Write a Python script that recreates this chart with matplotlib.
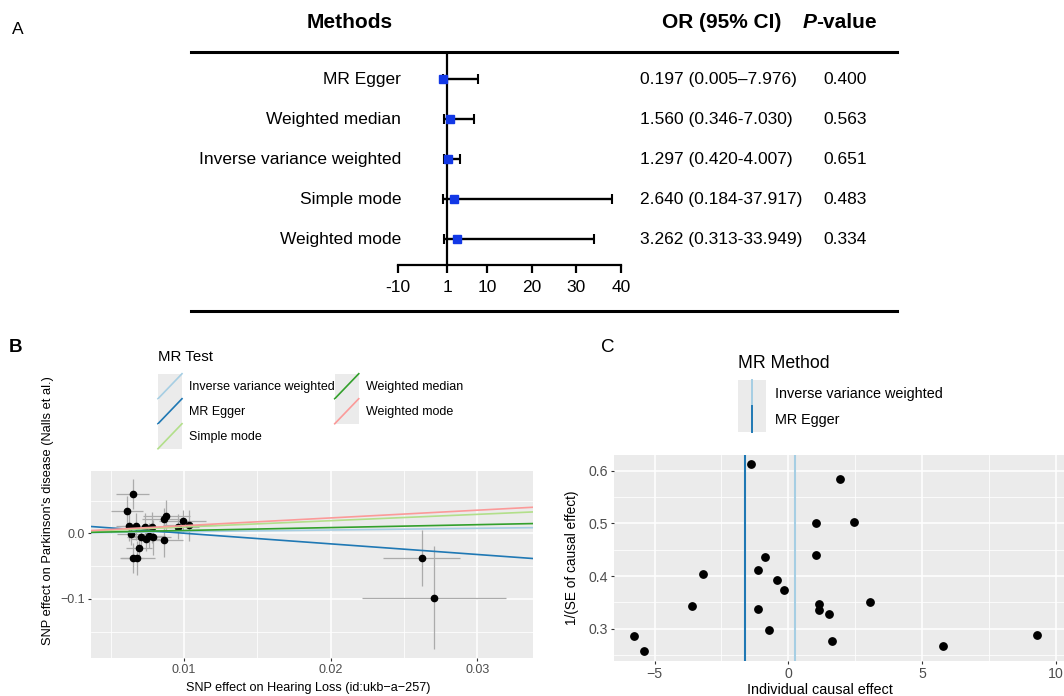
import matplotlib
matplotlib.use("Agg")
import matplotlib.pyplot as plt
import matplotlib.transforms as mtransforms
from matplotlib.patches import Rectangle
from matplotlib.lines import Line2D
from matplotlib.legend_handler import HandlerBase
import numpy as np

plt.rcParams['font.family'] = ['Liberation Sans', 'DejaVu Sans']

# ---------------- Panel A data ----------------
methods = ["MR Egger", "Weighted median", "Inverse variance weighted",
           "Simple mode", "Weighted mode"]
or_vals = [0.197, 1.560, 1.297, 2.640, 3.262]
or_low = [0.005, 0.346, 0.420, 0.184, 0.313]
or_high = [7.976, 7.030, 4.007, 37.917, 33.949]
or_text = ["0.197 (0.005\u20137.976)", "1.560 (0.346-7.030)", "1.297 (0.420-4.007)",
           "2.640 (0.184-37.917)", "3.262 (0.313-33.949)"]
p_text = ["0.400", "0.563", "0.651", "0.483", "0.334"]
a_ticks = [-10, 1, 10, 20, 30, 40]

# ---------------- Panel B data ----------------
snp_x = [0.0065, 0.0061, 0.00627, 0.00677, 0.00643, 0.0065, 0.00682, 0.00693,
         0.00736, 0.00739, 0.00759, 0.0078, 0.00791, 0.00864, 0.0088, 0.00866,
         0.00991, 0.00961, 0.01036, 0.0262, 0.02707, 0.0071]
snp_y = [0.060, 0.0347, 0.0112, 0.0112, -0.001, -0.0378, -0.0378, -0.022,
         0.0092, -0.0087, -0.0036, 0.0092, -0.0061, 0.0214, 0.0265, -0.0097,
         0.0189, 0.0102, 0.0122, -0.0372, -0.0985, -0.006]
snp_se_x = [0.0011, 0.0011, 0.0009, 0.0010, 0.0010, 0.0008, 0.0012, 0.0009,
            0.0012, 0.0010, 0.0011, 0.0014, 0.0012, 0.0015, 0.0016, 0.0013,
            0.0016, 0.0014, 0.0018, 0.0026, 0.0049, 0.0010]
snp_se_y = [0.0226, 0.0229, 0.0226, 0.0207, 0.0172, 0.0227, 0.0264, 0.0172,
            0.0213, 0.0180, 0.0193, 0.0233, 0.0266, 0.0172, 0.0251, 0.0257,
            0.0170, 0.0192, 0.0235, 0.0428, 0.0787, 0.0165]
line_methods = ["Inverse variance weighted", "MR Egger", "Simple mode",
                "Weighted median", "Weighted mode"]
line_or = [1.297, 0.197, 2.640, 1.560, 3.262]
line_intercepts = [0.0, 0.0165, 0.0, 0.0, 0.0]
line_colors = ["#a6cee3", "#1f78b4", "#b2df8a", "#33a02c", "#fb9a99"]

# ---------------- Panel C data ----------------
ce_x = [-1.40, 1.92, 1.05, 2.46, 1.05, -0.86, -1.12, -3.18, -0.42, -0.15, -3.60,
        -1.15, 3.07, 1.16, 1.16, 1.53, -0.71, -5.76, 1.65, 5.79, -5.39, 9.29]
ce_y = [0.612, 0.584, 0.500, 0.502, 0.440, 0.436, 0.411, 0.403, 0.393, 0.374, 0.344,
        0.337, 0.351, 0.346, 0.335, 0.327, 0.297, 0.286, 0.277, 0.268, 0.258, 0.288]
vline_methods = ["Inverse variance weighted", "MR Egger"]
vline_or = [1.297, 0.197]
vline_colors = ["#a6cee3", "#1f78b4"]

W, H = 1064, 696
fig = plt.figure(figsize=(W / 100, H / 100), dpi=100)


def fx(px):
    return px / W


def fy(py):
    return 1 - py / H


# ================= Panel A (forest plot) =================
top_px, axis_px = 52.3, 265
row0_px, row_step = 79.3, 40.0
axA = fig.add_axes([fx(398), fy(axis_px), fx(621) - fx(398), (axis_px - top_px) / H])
axA.set_xlim(-10, 40)
ylo = (axis_px - row0_px) / row_step
yhi = (top_px - row0_px) / row_step
axA.set_ylim(ylo, yhi)
rows = np.arange(len(methods))
ov = np.array(or_vals)
axA.errorbar(ov, rows, xerr=[ov - np.array(or_low), np.array(or_high) - ov],
             fmt='none', ecolor='black', elinewidth=1.7, capsize=3.5, capthick=1.5, zorder=2)
axA.plot(ov, rows, 's', color='#1238E6', ms=5.5, mec='#1238E6', zorder=4)
axA.axvline(1, color='black', lw=1.6, zorder=3)
for s in ['top', 'left', 'right']:
    axA.spines[s].set_visible(False)
axA.spines['bottom'].set_linewidth(1.6)
axA.set_yticks([])
axA.set_xticks(a_ticks)
axA.set_xticklabels([str(t) for t in a_ticks])
axA.tick_params(axis='x', length=6, width=1.6, labelsize=12.5, pad=5, direction='out')
axA.set_facecolor('none')

tA = mtransforms.blended_transform_factory(fig.transFigure, axA.transData)
line_y_bottom = (311 - row0_px) / row_step
axA.plot([fx(191), fx(897)], [yhi, yhi], color='black', lw=2.2, transform=tA, clip_on=False)
axA.plot([fx(191), fx(897)], [line_y_bottom, line_y_bottom], color='black', lw=2.2,
         transform=tA, clip_on=False)
for i in range(len(methods)):
    axA.text(fx(401), i, methods[i], ha='right', va='center', fontsize=12.5, transform=tA)
    axA.text(fx(640), i, or_text[i], ha='left', va='center', fontsize=12.5, transform=tA)
    axA.text(fx(823), i, p_text[i], ha='left', va='center', fontsize=12.5, transform=tA)
head_y = (22.7 - row0_px) / row_step
axA.text(fx(350), head_y, "Methods", ha='center', va='center', fontsize=15,
         fontweight='bold', transform=tA)
axA.text(fx(661.7), head_y, "OR (95% CI)", ha='left', va='center', fontsize=15,
         fontweight='bold', transform=tA)
tp = axA.text(fx(802.7), head_y, "P", ha='left', va='center', fontsize=15,
              fontweight='bold', fontstyle='italic', transform=tA)
axA.annotate("-value", xy=(1, 0), xycoords=tp, ha='left', va='bottom', fontsize=15,
             fontweight='bold')

# ================= Panel B (scatter) =================
axB = fig.add_axes([fx(91), fy(658), fx(533) - fx(91), (658 - 471) / H])
axB.set_facecolor('#EBEBEB')
axB.set_xlim(0.00367, 0.0338)
axB.set_ylim(-0.1905, 0.0954)
axB.set_xticks([0.01, 0.02, 0.03])
axB.set_xticklabels(["0.01", "0.02", "0.03"])
axB.set_yticks([-0.1, 0.0])
axB.set_yticklabels(["\u22120.1", "0.0"])
axB.set_xticks([0.005, 0.015, 0.025], minor=True)
axB.set_yticks([-0.15, -0.05, 0.05], minor=True)
axB.grid(which='major', color='white', lw=1.1)
axB.grid(which='minor', color='white', lw=0.55)
axB.set_axisbelow(True)
for s in axB.spines.values():
    s.set_visible(False)
axB.tick_params(which='major', length=2.5, width=0.8, color='#333333',
                labelcolor='#4D4D4D', labelsize=9, pad=2)
axB.tick_params(which='minor', length=0)
axB.errorbar(snp_x, snp_y, xerr=snp_se_x, yerr=snp_se_y, fmt='none',
             ecolor='#ABABAB', elinewidth=0.9, capsize=0, zorder=2)
axB.plot(snp_x, snp_y, 'o', color='black', ms=4.5, zorder=3)
b_handles = []
for m, o, b0, c in zip(line_methods, line_or, line_intercepts, line_colors):
    h = axB.axline((0, b0), slope=np.log(o), color=c, lw=1.2, zorder=4, label=m)
    b_handles.append(h)
axB.set_xlabel("SNP effect on Hearing Loss (id:ukb\u2212a\u2212257)", fontsize=9.1, color='black')
axB.set_ylabel("SNP effect on Parkinson's disease (Nalls et al.)", fontsize=9.3, color='black')
axB.xaxis.set_label_coords(0.4925, -0.13)
axB.yaxis.set_label_coords(-0.083, 0.79)


class DiagHandler(HandlerBase):
    def create_artists(self, legend, orig_handle, xdescent, ydescent, width, height,
                       fontsize, trans):
        r = Rectangle((-xdescent, -ydescent), width, height, facecolor='#EBEBEB',
                      edgecolor='none', transform=trans)
        ln = Line2D([-xdescent, -xdescent + width], [-ydescent, -ydescent + height],
                    color=orig_handle.get_color(), lw=1.2, transform=trans)
        return [r, ln]


class VertHandler(HandlerBase):
    def create_artists(self, legend, orig_handle, xdescent, ydescent, width, height,
                       fontsize, trans):
        r = Rectangle((-xdescent, -ydescent), width, height, facecolor='#EBEBEB',
                      edgecolor='none', transform=trans)
        xm = -xdescent + width / 2
        ln = Line2D([xm, xm], [-ydescent, -ydescent + height],
                    color=orig_handle.get_color(), lw=1.4, transform=trans)
        return [r, ln]


legB = fig.legend(b_handles, line_methods, loc='upper left',
                  bbox_to_anchor=(fx(158), fy(350)), ncol=2, frameon=False,
                  title="MR Test", title_fontsize=10.8, fontsize=9, alignment='left',
                  handlelength=1.92, handleheight=2.7, labelspacing=0,
                  handletextpad=0.56, columnspacing=0.0, borderpad=0, borderaxespad=0,
                  handler_map={type(b_handles[0]): DiagHandler()})
try:
    legB._legend_box.sep = 7
except Exception:
    pass

# ================= Panel C (funnel) =================
axC = fig.add_axes([fx(614), fy(661), 1 - fx(614), (661 - 455) / H])
axC.set_facecolor('#EBEBEB')
axC.set_xlim(-6.52, 10.31)
axC.set_ylim(0.2386, 0.630)
axC.set_xticks([-5, 0, 5, 10])
axC.set_xticklabels(["\u22125", "0", "5", "10"])
axC.set_yticks([0.3, 0.4, 0.5, 0.6])
axC.set_yticklabels(["0.3", "0.4", "0.5", "0.6"])
axC.set_xticks([-2.5, 2.5, 7.5], minor=True)
axC.set_yticks([0.25, 0.35, 0.45, 0.55], minor=True)
axC.grid(which='major', color='white', lw=1.1)
axC.grid(which='minor', color='white', lw=0.55)
axC.set_axisbelow(True)
for s in axC.spines.values():
    s.set_visible(False)
axC.tick_params(which='major', length=2.5, width=0.8, color='#333333',
                labelcolor='#4D4D4D', labelsize=10.2, pad=2)
axC.tick_params(which='minor', length=0)
axC.plot(ce_x, ce_y, 'o', color='black', ms=5.3, zorder=3)
c_handles = []
for m, o, c in zip(vline_methods, vline_or, vline_colors):
    h = axC.axvline(np.log(o), color=c, lw=1.5, zorder=2, label=m)
    c_handles.append(h)
axC.set_xlabel("Individual causal effect", fontsize=10.4, color='black')
axC.set_ylabel("1/(SE of causal effect)", fontsize=9.8, color='black')
axC.xaxis.set_label_coords(0.458, -0.107)
axC.yaxis.set_label_coords(-0.078, 0.5)

legC = fig.legend(c_handles, vline_methods, loc='upper left',
                  bbox_to_anchor=(fx(738), fy(355)), ncol=1, frameon=False,
                  title="MR Method", title_fontsize=12.7, fontsize=10.4, alignment='left',
                  handlelength=1.94, handleheight=2.39, labelspacing=0,
                  handletextpad=0.62, borderpad=0, borderaxespad=0,
                  handler_map={type(c_handles[0]): VertHandler()})
try:
    legC._legend_box.sep = 6
except Exception:
    pass

# ================= Panel letters =================
fig.text(fx(12), fy(30), "A", fontsize=12.5, ha='left', va='center')
fig.text(fx(9), fy(347), "B", fontsize=13.5, fontweight='bold', ha='left', va='center')
fig.text(fx(601), fy(347), "C", fontsize=13.5, ha='left', va='center')

fig.savefig("out.png", dpi=100)
